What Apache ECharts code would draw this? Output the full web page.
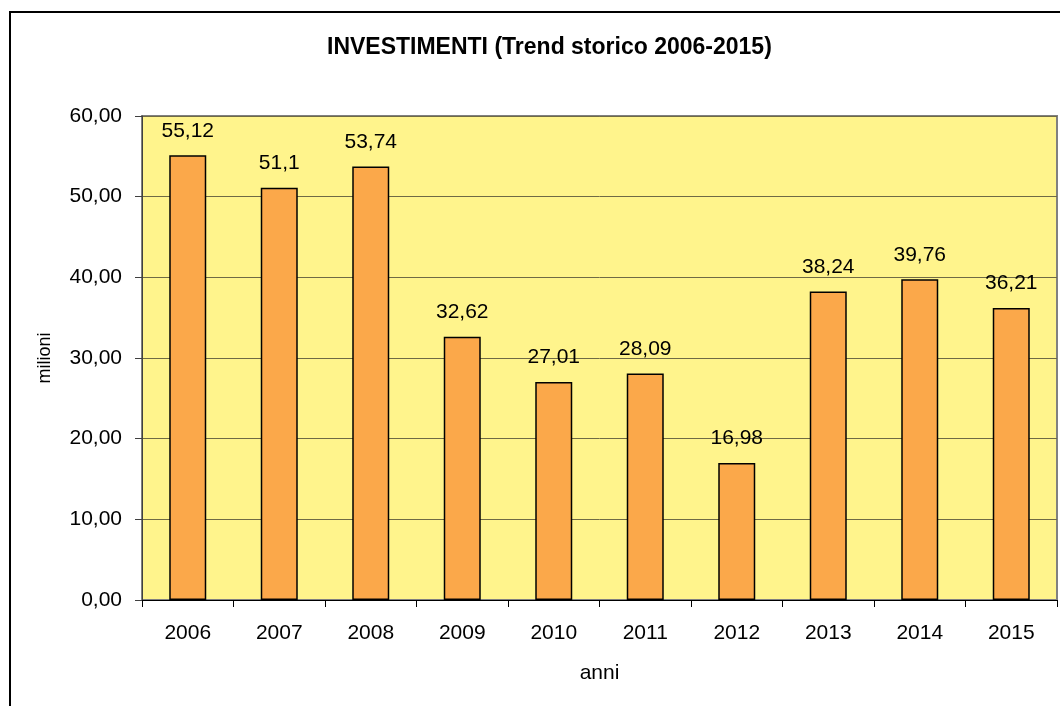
<!DOCTYPE html>
<html>
<head>
  <meta http-equiv="Content-Type" content="text/html; charset=utf-8"/>
  <title>Investimenti</title>
  <script src="https://cdn.jsdelivr.net/npm/echarts@6/dist/echarts.min.js"></script>
  <style>
    html, body { margin:0; padding:0; background:#fff; }
    #chart { width:1060px; height:706px; }
  </style>
</head>
<body>
<div id="chart"></div>
<script type="text/javascript">
var anni = ['2006','2007','2008','2009','2010','2011','2012','2013','2014','2015'];
var investimenti = [55.12, 51.1, 53.74, 32.62, 27.01, 28.09, 16.98, 38.24, 39.76, 36.21];
var titolo = 'INVESTIMENTI (Trend storico 2006-2015)';

var font = "'Liberation Sans', Arial, sans-serif";

function virgola(v){
  return String(v).replace('.', ',');
}

var chart = echarts.init(document.getElementById('chart'));
var option = {
  animation: false,
  textStyle: { fontFamily: font },
  title: {
    text: titolo,
    left: 322,
    top: 31,
    textStyle: { fontFamily: font, fontSize: 23, fontWeight: 'bold', color: '#000' }
  },
  graphic: [{
    type: 'rect',
    shape: { x: 10, y: 12, width: 1200, height: 900 },
    style: { fill: 'none', stroke: '#000', lineWidth: 2 },
    z: 100
  }],
  grid: {
    left: 142, top: 116, right: 3, bottom: 106,
    show: true,
    backgroundColor: '#FFF48C',
    borderColor: '#808080',
    borderWidth: 2
  },
  xAxis: {
    type: 'category',
    data: anni,
    name: 'anni',
    nameLocation: 'middle',
    nameGap: 63,
    nameTextStyle: { fontFamily: font, fontSize: 21, color: '#000' },
    axisLine: { lineStyle: { color: '#000', width: 1 } },
    axisTick: { show: true, length: 7, lineStyle: { color: '#000' } },
    axisLabel: { fontFamily: font, fontSize: 21, color: '#000', margin: 23 }
  },
  yAxis: {
    type: 'value',
    min: 0, max: 60, interval: 10,
    name: 'milioni',
    nameLocation: 'middle',
    nameGap: 88,
    nameTextStyle: { fontFamily: font, fontSize: 18, color: '#000' },
    axisLine: { show: true, lineStyle: { color: '#404040', width: 1 } },
    axisTick: { show: true, length: 7, lineStyle: { color: '#404040' } },
    axisLabel: {
      fontFamily: font, fontSize: 21, color: '#000', margin: 20,
      formatter: function(v){ return v.toFixed(2).replace('.', ','); }
    },
    splitLine: { show: true, lineStyle: { color: '#6f6a45', width: 1 } }
  },
  series: [{
    type: 'bar',
    data: investimenti,
    barWidth: 37,
    itemStyle: { color: '#FBA84A', borderColor: '#000', borderWidth: 1.5 },
    label: {
      show: true,
      position: 'top',
      distance: 14,
      fontFamily: font,
      fontSize: 21,
      color: '#000',
      formatter: function(p){ return virgola(p.value); }
    }
  }]
};
chart.setOption(option);
</script>
</body>
</html>
